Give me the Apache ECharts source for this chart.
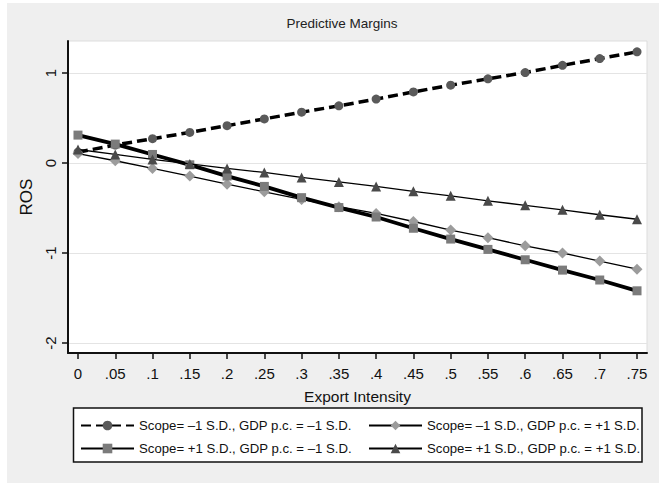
<!DOCTYPE html>
<html>
<head>
<meta charset="utf-8">
<script src="https://cdn.jsdelivr.net/npm/echarts@6/dist/echarts.min.js"></script>
<style>
html,body{margin:0;padding:0;background:#ffffff;}
#chart{width:659px;height:483px;}
</style>
</head>
<body>
<div id="chart"></div>
<script>
// ---- data ----
const exportIntensity = [0, 0.05, 0.1, 0.15, 0.2, 0.25, 0.3, 0.35, 0.4, 0.45, 0.5, 0.55, 0.6, 0.65, 0.7, 0.75];
const xTickLabels = ['0', '.05', '.1', '.15', '.2', '.25', '.3', '.35', '.4', '.45', '.5', '.55', '.6', '.65', '.7', '.75'];
const yTicks = [-2, -1, 0, 1];
const yTickLabels = ['-2', '-1', '0', '1'];

const seriesNames = [
  'Scope= \u20131 S.D., GDP p.c. = \u20131 S.D.',
  'Scope= \u20131 S.D., GDP p.c. = +1 S.D.',
  'Scope= +1 S.D., GDP p.c. = \u20131 S.D.',
  'Scope= +1 S.D., GDP p.c. = +1 S.D.'
];
const scopeLowGdpLow  = [0.12, 0.20, 0.27, 0.34, 0.415, 0.49, 0.565, 0.635, 0.71, 0.79, 0.865, 0.935, 1.005, 1.085, 1.16, 1.235];
const scopeLowGdpHigh = [0.105, 0.025, -0.06, -0.145, -0.235, -0.32, -0.405, -0.485, -0.56, -0.65, -0.745, -0.83, -0.92, -1.0, -1.09, -1.18];
const scopeHighGdpLow = [0.31, 0.21, 0.095, -0.02, -0.145, -0.26, -0.385, -0.495, -0.6, -0.725, -0.845, -0.96, -1.075, -1.19, -1.3, -1.42];
const scopeHighGdpHigh= [0.15, 0.095, 0.04, -0.01, -0.06, -0.105, -0.16, -0.21, -0.26, -0.315, -0.365, -0.42, -0.47, -0.52, -0.575, -0.625];

const FONT = '"Liberation Sans", Arial, Helvetica, sans-serif';

function pairs(vals) { return exportIntensity.map((x, i) => [x, vals[i]]); }
function xLabel(v) {
  for (let i = 0; i < exportIntensity.length; i++) {
    if (Math.abs(exportIntensity[i] - v) < 1e-6) return xTickLabels[i];
  }
  return '';
}
function yLabel(v) {
  for (let i = 0; i < yTicks.length; i++) {
    if (Math.abs(yTicks[i] - v) < 1e-6) return yTickLabels[i];
  }
  return '';
}

const chart = echarts.init(document.getElementById('chart'), null, {renderer: 'svg'});

const seriesStyles = [
  {symbol: 'circle', size: 9, color: '#5a5a5a', width: 3.5, type: [10, 5]},
  {symbol: 'diamond', size: 11, color: '#9c9c9c', width: 1.3, type: 'solid'},
  {symbol: 'rect', size: 9, color: '#7b7b7b', width: 3.8, type: 'solid'},
  {symbol: 'triangle', size: 10, color: '#4a4a4a', width: 1.3, type: 'solid'}
];
const seriesData = [scopeLowGdpLow, scopeLowGdpHigh, scopeHighGdpLow, scopeHighGdpHigh];

const series = seriesData.map((vals, i) => ({
  name: seriesNames[i],
  type: 'line',
  data: pairs(vals),
  symbol: seriesStyles[i].symbol,
  symbolSize: seriesStyles[i].size,
  showSymbol: true,
  showAllSymbol: true,
  itemStyle: {color: seriesStyles[i].color, borderWidth: 0},
  lineStyle: {color: '#000000', width: seriesStyles[i].width, type: seriesStyles[i].type},
  emphasis: {disabled: true},
  z: 2 + i
}));

const legendPos = [
  {left: 80, top: 419},
  {left: 368, top: 419},
  {left: 80, top: 442},
  {left: 368, top: 442}
];
const legends = seriesNames.map((n, i) => ({
  data: [n],
  left: legendPos[i].left,
  top: legendPos[i].top,
  orient: 'horizontal',
  padding: 0,
  itemWidth: 53,
  itemHeight: 12,
  selectedMode: false,
  textStyle: {fontFamily: FONT, fontSize: 13.2, color: '#111111'},
  z: 10
}));

chart.setOption({
  animation: false,
  backgroundColor: '#ffffff',
  title: {
    text: 'Predictive Margins',
    left: 337,
    top: 11,
    textAlign: 'center',
    textStyle: {fontFamily: FONT, fontSize: 13.5, fontWeight: 'normal', color: '#222222'}
  },
  graphic: [
    {type: 'rect', z: -10, silent: true, shape: {x: 7, y: 3, width: 652, height: 480}, style: {fill: '#efefef'}},
    {type: 'rect', z: 5, silent: true, shape: {x: 73.5, y: 408, width: 568.5, height: 54}, style: {fill: '#ffffff', stroke: '#111111', lineWidth: 1.5}}
  ],
  legend: legends,
  grid: {
    left: 68, right: 12, top: 41, bottom: 130,
    containLabel: false,
    outerBoundsMode: 'none',
    show: true,
    backgroundColor: '#ffffff',
    borderColor: '#dddddd',
    borderWidth: 1
  },
  xAxis: {
    type: 'value',
    min: -0.0134,
    max: 0.7634,
    name: 'Export Intensity',
    nameLocation: 'middle',
    nameGap: 35,
    nameTextStyle: {fontFamily: FONT, fontSize: 15.5, color: '#111111'},
    axisLine: {show: true, onZero: false, lineStyle: {color: '#111111', width: 2}},
    axisTick: {show: true, inside: false, length: 6, customValues: exportIntensity, lineStyle: {color: '#111111', width: 1.5}},
    axisLabel: {show: true, margin: 13, customValues: exportIntensity, formatter: xLabel, fontFamily: FONT, fontSize: 15, color: '#111111'},
    splitLine: {show: false}
  },
  yAxis: {
    type: 'value',
    min: -2.111,
    max: 1.3556,
    name: 'ROS',
    nameLocation: 'middle',
    nameGap: 33,
    nameTextStyle: {fontFamily: FONT, fontSize: 17, color: '#111111'},
    axisLine: {show: true, onZero: false, lineStyle: {color: '#111111', width: 2}},
    axisTick: {show: true, inside: false, length: 6, customValues: yTicks, lineStyle: {color: '#111111', width: 1.5}},
    axisLabel: {show: true, rotate: 90, margin: 10, customValues: yTicks, formatter: yLabel, fontFamily: FONT, fontSize: 15, color: '#111111'},
    splitLine: {show: true, lineStyle: {color: '#e4e4e4', width: 1}}
  },
  series: series
});
</script>
</body>
</html>
